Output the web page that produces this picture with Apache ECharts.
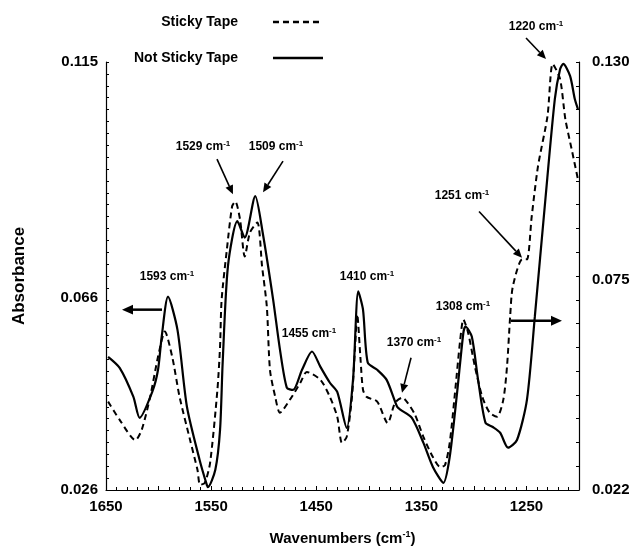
<!DOCTYPE html>
<html>
<head>
<meta charset="utf-8">
<script src="https://cdn.jsdelivr.net/npm/echarts@6/dist/echarts.min.js"></script>
<style>
  html, body { margin: 0; padding: 0; background: #fff; }
  #main { width: 634px; height: 547px; }
</style>
</head>
<body>
<div id="main"></div>
<script>
// 读图得到的数据 (wavenumber, absorbance)
const seriesNames = ["Sticky Tape", "Not Sticky Tape"];

// Not Sticky Tape -> left axis
const solidWn = [1648, 1637, 1624, 1618, 1606, 1600.5, 1597, 1591, 1582, 1573, 1561, 1554, 1553, 1546, 1541.5, 1539, 1534, 1525, 1518, 1508, 1501, 1491, 1484.5, 1478, 1472, 1463.5, 1454, 1446, 1437, 1430, 1421, 1415, 1410, 1405.5, 1401, 1392, 1383, 1373, 1370, 1359, 1348, 1339, 1329, 1323, 1316, 1310, 1308, 1302, 1296, 1289, 1282, 1275, 1267.5, 1259, 1249.5, 1242, 1232, 1223, 1218, 1215, 1208.5, 1204, 1201];
const solidAbs = [0.0537, 0.0514, 0.0454, 0.0410, 0.0464, 0.0510, 0.0579, 0.0662, 0.0593, 0.0433, 0.0323, 0.0270, 0.0266, 0.0302, 0.0385, 0.0525, 0.0725, 0.0819, 0.0785, 0.0871, 0.0796, 0.0656, 0.0552, 0.0473, 0.0468, 0.0510, 0.0548, 0.0516, 0.0483, 0.0464, 0.0389, 0.0489, 0.0673, 0.0635, 0.0525, 0.0510, 0.0489, 0.0433, 0.0427, 0.0410, 0.0358, 0.0308, 0.0275, 0.0329, 0.0462, 0.0587, 0.0600, 0.0579, 0.0489, 0.0400, 0.0391, 0.0379, 0.0348, 0.0364, 0.0448, 0.0621, 0.0864, 0.1073, 0.1135, 0.1146, 0.1121, 0.1073, 0.1052];

// Sticky Tape -> right axis
const dashWn = [1648, 1637, 1622, 1616, 1608, 1600.5, 1594, 1587, 1580, 1570, 1563, 1560.5, 1556, 1551, 1544, 1541.5, 1540, 1535, 1530, 1527, 1522.5, 1518, 1513, 1506, 1501.5, 1497, 1494, 1489, 1484.5, 1475, 1465, 1459, 1446, 1437, 1430, 1425.5, 1421, 1416, 1413, 1411, 1408, 1405.5, 1402, 1392, 1382, 1375, 1368, 1363, 1356, 1348, 1339, 1332, 1327.5, 1323, 1318, 1313, 1310, 1305.5, 1299, 1292, 1285, 1278, 1272, 1268.5, 1265.5, 1263, 1254, 1249.5, 1245, 1239, 1230, 1225, 1218, 1213, 1207, 1201];
const dashAbs = [0.0443, 0.0397, 0.0346, 0.0372, 0.0455, 0.0556, 0.0620, 0.0556, 0.0455, 0.0346, 0.0271, 0.0233, 0.0238, 0.0288, 0.0473, 0.0582, 0.0700, 0.0827, 0.0936, 0.0948, 0.0903, 0.0809, 0.0870, 0.0895, 0.0784, 0.0683, 0.0523, 0.0455, 0.0415, 0.0448, 0.0491, 0.0518, 0.0498, 0.0455, 0.0405, 0.0339, 0.0354, 0.0455, 0.0582, 0.0663, 0.0556, 0.0473, 0.0455, 0.0443, 0.0389, 0.0440, 0.0453, 0.0440, 0.0410, 0.0354, 0.0303, 0.0278, 0.0283, 0.0339, 0.0465, 0.0599, 0.0650, 0.0617, 0.0531, 0.0455, 0.0415, 0.0405, 0.0448, 0.0531, 0.0658, 0.0733, 0.0802, 0.0802, 0.0910, 0.1037, 0.1163, 0.1295, 0.1257, 0.1156, 0.1080, 0.1004];

const xLabels = [1650, 1550, 1450, 1350, 1250];
const leftLabels = [0.026, 0.066, 0.115];
const rightLabels = [0.022, 0.075, 0.130];
const peakLabels = ["1593", "1529", "1509", "1455", "1410", "1370", "1308", "1251", "1220"];

const FONT = "Arial, 'Liberation Sans', sans-serif";

// tick positions (styling only)
function ticks(min, max, n) {
  let out = [];
  for (let i = 0; i <= n; i++) out.push(+(min + (max - min) * i / n).toFixed(5));
  return out;
}

let chart = echarts.init(document.getElementById("main"));

let option = {
  animation: false,
  backgroundColor: "#fff",
  legend: {
    data: seriesNames,
    orient: "vertical",
    left: 129,
    top: 10,
    align: "right",
    itemGap: 22,
    itemWidth: 50,
    itemHeight: 14,
    itemStyle: { color: "transparent", borderColor: "transparent", borderWidth: 0, opacity: 0 },
    lineStyle: { width: 2.5 },
    textStyle: { fontFamily: FONT, fontSize: 14, fontWeight: "bold", color: "#000", padding: [0, 30, 0, 0] },
  },
  grid: { left: 106, right: 55, top: 62, bottom: 57, outerBoundsMode: "none" },
  xAxis: {
    type: "value",
    min: 1200,
    max: 1650,
    interval: 50,
    inverse: true,
    name: "{n|Wavenumbers (cm}{s|-1}{n|)}",
    nameLocation: "middle",
    nameGap: 40,
    nameTextStyle: {
      rich: {
        n: { fontFamily: FONT, fontSize: 15, fontWeight: "bold", color: "#000", lineHeight: 18 },
        s: { fontFamily: FONT, fontSize: 9, fontWeight: "bold", color: "#000", verticalAlign: "top" },
      },
    },
    axisLine: { lineStyle: { color: "#000", width: 1.2 } },
    axisTick: { inside: true, length: 4, lineStyle: { color: "#000" } },
    minorTick: { show: true, splitNumber: 5, length: 3, lineStyle: { color: "#000" } },
    splitLine: { show: false },
    axisLabel: {
      margin: 9,
      fontFamily: FONT,
      fontSize: 15,
      fontWeight: "bold",
      color: "#000",
      formatter: (v) => (xLabels.indexOf(v) >= 0 ? String(v) : ""),
    },
  },
  yAxis: [
    {
      type: "value",
      min: 0.026,
      max: 0.115,
      position: "left",
      name: "Absorbance",
      nameLocation: "middle",
      nameRotate: 90,
      nameGap: 78,
      nameTextStyle: { fontFamily: FONT, fontSize: 17, fontWeight: "bold", color: "#000" },
      axisLine: { show: true, lineStyle: { color: "#000", width: 1.2 } },
      axisTick: { show: true, inside: true, length: 3, customValues: ticks(0.026, 0.115, 36), lineStyle: { color: "#000" } },
      splitLine: { show: false },
      axisLabel: { margin: 8, fontFamily: FONT, fontSize: 15, fontWeight: "bold", color: "#000", customValues: leftLabels, formatter: (v) => v.toFixed(3) },
    },
    {
      type: "value",
      min: 0.022,
      max: 0.13,
      position: "right",
      axisLine: { show: true, lineStyle: { color: "#000", width: 1.2 } },
      axisTick: { show: true, inside: true, length: 3, customValues: ticks(0.022, 0.13, 18), lineStyle: { color: "#000" } },
      splitLine: { show: false },
      axisLabel: { margin: 13, fontFamily: FONT, fontSize: 15, fontWeight: "bold", color: "#000", customValues: rightLabels, formatter: (v) => v.toFixed(3) },
    },
  ],
  series: [
    {
      name: seriesNames[0],
      type: "line",
      yAxisIndex: 1,
      symbol: "none",
      smooth: 0.25,
      clip: false,
      lineStyle: { color: "#000", width: 2, type: [6, 4] },
      itemStyle: { color: "#000" },
      data: dashWn.map((w, i) => [w, dashAbs[i]]),
    },
    {
      name: seriesNames[1],
      type: "line",
      yAxisIndex: 0,
      symbol: "none",
      smooth: 0.25,
      clip: false,
      lineStyle: { color: "#000", width: 2.2 },
      itemStyle: { color: "#000" },
      data: solidWn.map((w, i) => [w, solidAbs[i]]),
    },
  ],
};

chart.setOption(option);

// 标注: label 位置 + 箭头 (data coords on left axis)
let notes = [
  { t: peakLabels[0], at: [1592, 0.0704] },
  { t: peakLabels[1], at: [1557.7, 0.0973], from: [1544.4, 0.0948], to: [1529.2, 0.0875] },
  { t: peakLabels[2], at: [1488.3, 0.0973], from: [1481.6, 0.0944], to: [1500.6, 0.0879] },
  { t: peakLabels[3], at: [1456.9, 0.0585] },
  { t: peakLabels[4], at: [1401.7, 0.0704] },
  { t: peakLabels[5], at: [1357, 0.0566], from: [1359.8, 0.0535], to: [1368.4, 0.0462] },
  { t: peakLabels[6], at: [1310.4, 0.0641] },
  { t: peakLabels[7], at: [1311.3, 0.0871], from: [1295.1, 0.0839], to: [1254.2, 0.0743] },
  { t: peakLabels[8], at: [1240.9, 0.1223], from: [1250.4, 0.1200], to: [1231.4, 0.1156] },
];
let sideArrows = [
  { from: [1596.7, 0.0635], to: [1634.8, 0.0635] },
  { from: [1264.7, 0.0612], to: [1216.2, 0.0612] },
];

function px(p) {
  return chart.convertToPixel({ xAxisIndex: 0, yAxisIndex: 0 }, p);
}

function arrow(from, to, w, head) {
  let a = px(from), b = px(to);
  let dx = b[0] - a[0], dy = b[1] - a[1];
  let len = Math.sqrt(dx * dx + dy * dy);
  let ux = dx / len, uy = dy / len;
  let bx = b[0] - ux * head, by = b[1] - uy * head;
  let hw = head * 0.45;
  return [
    { type: "line", shape: { x1: a[0], y1: a[1], x2: bx, y2: by }, style: { stroke: "#000", lineWidth: w } },
    {
      type: "polygon",
      shape: { points: [[b[0], b[1]], [bx - uy * hw, by + ux * hw], [bx + uy * hw, by - ux * hw]] },
      style: { fill: "#000" },
    },
  ];
}

let elements = [];
notes.forEach((n) => {
  let p = px(n.at);
  elements.push({
    type: "text",
    x: p[0],
    y: p[1],
    style: {
      text: "{n|" + n.t + " cm}{s|-1}",
      align: "center",
      verticalAlign: "middle",
      rich: {
        n: { fontFamily: FONT, fontSize: 12, fontWeight: "bold", fill: "#000", lineHeight: 14 },
        s: { fontFamily: FONT, fontSize: 8, fontWeight: "bold", fill: "#000", verticalAlign: "top" },
      },
    },
  });
  if (n.from) elements = elements.concat(arrow(n.from, n.to, 1.6, 9));
});
sideArrows.forEach((s) => {
  elements = elements.concat(arrow(s.from, s.to, 2.5, 11));
});

chart.setOption({ graphic: elements });
</script>
</body>
</html>
